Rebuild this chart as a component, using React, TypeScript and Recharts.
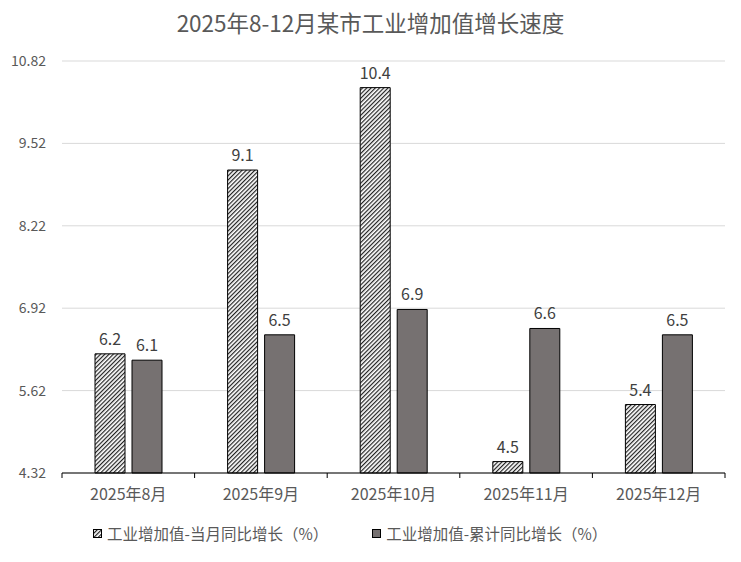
import React from "react";
import {
  BarChart,
  Bar,
  XAxis,
  YAxis,
  CartesianGrid,
  LabelList,
  Legend,
} from "recharts";

const months = ["2025年8月", "2025年9月", "2025年10月", "2025年11月", "2025年12月"];
const monthly = [6.2, 9.1, 10.4, 4.5, 5.4];
const cumulative = [6.1, 6.5, 6.9, 6.6, 6.5];
const yTicks = [4.32, 5.62, 6.92, 8.22, 9.52, 10.82];

const W = 741;
const H = 562;
const LEFT = 62;
const RIGHT = 16;
const FONT = "'Noto Sans CJK SC', 'Noto Sans', sans-serif";

const data = months.map((m, i) => ({
  month: m,
  monthly: monthly[i],
  cumulative: cumulative[i],
}));

const band = (W - LEFT - RIGHT) / months.length;

function MonthTick(props: any) {
  const { x, y, payload, index } = props;
  return (
    <g>
      <line x1={x - band / 2} y1={y} x2={x - band / 2} y2={y + 5} stroke="#000" />
      {index === months.length - 1 && (
        <line x1={x + band / 2} y1={y} x2={x + band / 2} y2={y + 5} stroke="#000" />
      )}
      <text x={x} y={y + 27} textAnchor="middle" fill="#595959" fontSize={16} fontFamily={FONT}>
        {payload.value}
      </text>
    </g>
  );
}

function LegendContent() {
  return (
    <div
      style={{
        display: "flex",
        justifyContent: "flex-start",
        fontFamily: FONT,
        fontSize: 15.5,
        color: "#595959",
        paddingLeft: 93,
      }}
    >
      <span style={{ display: "flex", alignItems: "center" }}>
        <svg width={9} height={9} style={{ marginRight: 5 }}>
          <rect x={0.5} y={0.5} width={8} height={8} fill="url(#hatch)" stroke="#000" />
        </svg>
        工业增加值-当月同比增长（%）
      </span>
      <span style={{ display: "flex", alignItems: "center", marginLeft: 44 }}>
        <svg width={9} height={9} style={{ marginRight: 5 }}>
          <rect x={0.5} y={0.5} width={8} height={8} fill="#767171" stroke="#000" />
        </svg>
        工业增加值-累计同比增长（%）
      </span>
    </div>
  );
}

export default function App() {
  return (
    <div style={{ position: "absolute", left: 0, top: 0, width: W, height: H, background: "#fff" }}>
      <div
        style={{
          position: "absolute",
          top: 6,
          width: W,
          textAlign: "center",
          fontFamily: FONT,
          fontSize: 22.5,
          color: "#595959",
        }}
      >
        2025年8-12月某市工业增加值增长速度
      </div>
      <BarChart
        width={W}
        height={H}
        data={data}
        margin={{ top: 61, right: RIGHT, left: 0, bottom: 0 }}
        barSize={30}
        barGap={7}
      >
        <defs>
          <pattern id="hatch" patternUnits="userSpaceOnUse" width={3} height={3} patternTransform="rotate(45)">
            <rect width={3} height={3} fill="#fff" />
            <line x1={0.6} y1={0} x2={0.6} y2={3} stroke="#222" strokeWidth={1.2} />
          </pattern>
        </defs>
        <CartesianGrid stroke="#d9d9d9" vertical={false} />
        <XAxis
          dataKey="month"
          stroke="#000"
          tickLine={false}
          tickSize={0}
          tickMargin={0}
          height={49}
          tick={<MonthTick />}
          interval={0}
        />
        <YAxis
          width={LEFT}
          domain={[4.32, 10.82]}
          ticks={yTicks}
          axisLine={false}
          tickLine={false}
          tickSize={0}
          tickMargin={16}
          tick={{ fill: "#595959", fontSize: 14, fontFamily: FONT }}
          tickFormatter={(v) => v.toFixed(2)}
        />
        <Legend verticalAlign="bottom" height={40} content={<LegendContent />} />
        <Bar dataKey="monthly" fill="url(#hatch)" stroke="#000" strokeWidth={1} isAnimationActive={false}>
          <LabelList dataKey="monthly" position="top" offset={9} fill="#404040" fontSize={16} fontFamily={FONT} />
        </Bar>
        <Bar dataKey="cumulative" fill="#767171" stroke="#000" strokeWidth={1} isAnimationActive={false}>
          <LabelList dataKey="cumulative" position="top" offset={9} fill="#404040" fontSize={16} fontFamily={FONT} />
        </Bar>
      </BarChart>
    </div>
  );
}
